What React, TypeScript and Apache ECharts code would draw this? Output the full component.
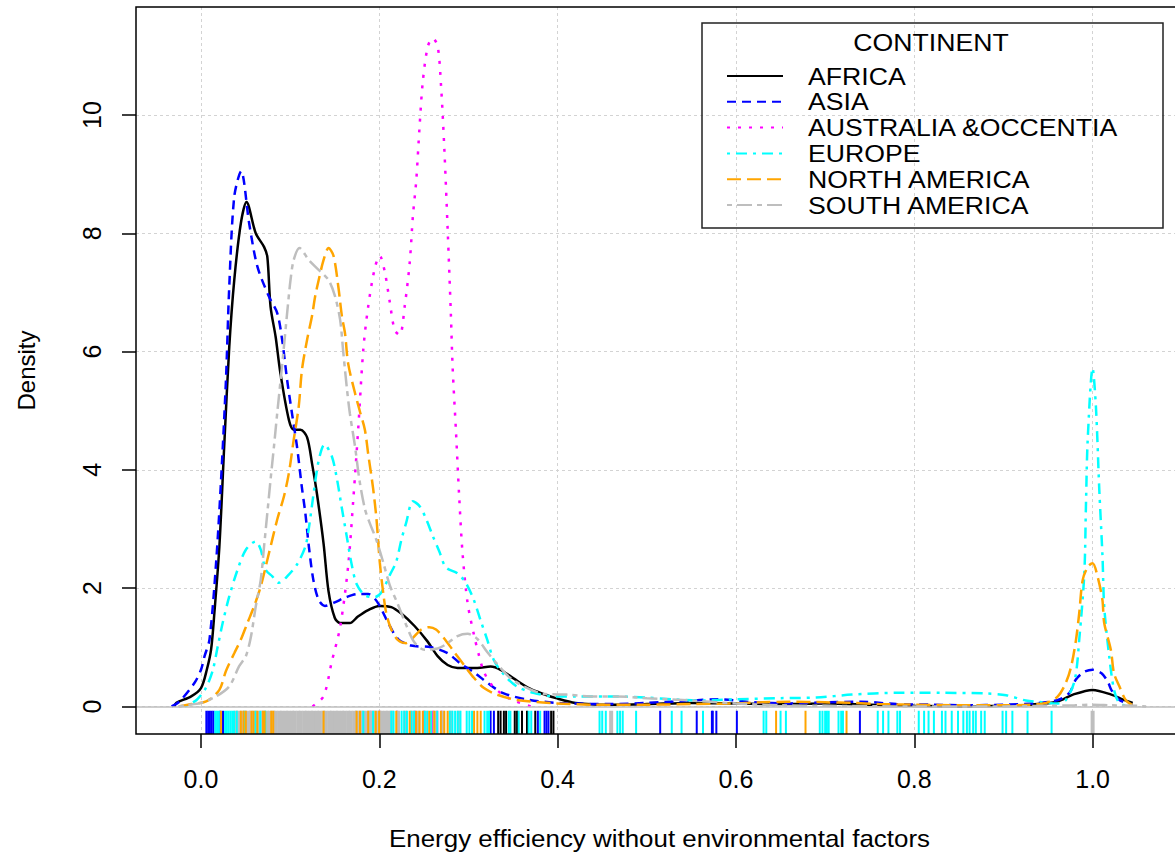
import React, { useEffect, useRef } from "react";
import * as echarts from "echarts";

// ---------- axis ranges and ticks ----------
const X_MIN = -0.0729;
const X_MAX = 1.0924;
const Y_MIN = -0.466;
const Y_MAX = 11.826;
const X_TICKS = [0, 0.2, 0.4, 0.6, 0.8, 1.0];
const Y_TICKS = [0, 2, 4, 6, 8, 10];
const RUG_TOP = -0.073;

const X_TITLE = "Energy efficiency without environmental factors";
const Y_TITLE = "Density";
const LEGEND_TITLE = "CONTINENT";
const CONTINENTS = ["AFRICA", "ASIA", "AUSTRALIA &OCCENTIA", "EUROPE", "NORTH AMERICA", "SOUTH AMERICA"];

// ---------- density curves [x, density] ----------
const AFRICA = [
  [-0.03, 0.0], [-0.0276, 0.06], [-0.011, 0.17], [0.0, 0.31], [0.0065, 0.62], [0.0113, 0.96], [0.015, 1.58],
  [0.0206, 2.7], [0.026, 4.39], [0.0317, 6.08], [0.0373, 7.21], [0.0447, 8.17], [0.051, 8.53], [0.0614, 8.0],
  [0.0707, 7.77], [0.0744, 7.6], [0.078, 6.76], [0.0837, 6.25], [0.089, 5.64], [0.0985, 4.85], [0.104, 4.68],
  [0.1115, 4.68], [0.119, 4.55], [0.1245, 4.11], [0.13, 3.6], [0.1375, 2.75], [0.143, 1.95], [0.15, 1.5],
  [0.156, 1.41], [0.167, 1.41], [0.176, 1.52], [0.1875, 1.63], [0.2, 1.7], [0.2135, 1.68], [0.2246, 1.57],
  [0.2395, 1.36], [0.254, 1.1], [0.2654, 0.85], [0.2766, 0.7], [0.2877, 0.65], [0.31, 0.65], [0.3248, 0.675],
  [0.336, 0.62], [0.351, 0.47], [0.369, 0.3], [0.384, 0.21], [0.398, 0.14], [0.42, 0.06], [0.458, 0.03],
  [0.5, 0.04], [0.55, 0.06], [0.6, 0.05], [0.65, 0.04], [0.7, 0.05], [0.75, 0.03], [0.8, 0.01], [0.85, 0.0],
  [0.9, 0.01], [0.93, 0.03], [0.96, 0.08], [0.978, 0.2], [1.0, 0.28], [1.021, 0.2], [1.035, 0.11], [1.045, 0.06],
];
const ASIA = [
  [-0.033, 0.0], [-0.024, 0.085], [-0.0072, 0.4], [0.0, 0.62], [0.004, 0.85], [0.0095, 1.13], [0.0169, 2.42],
  [0.0225, 3.83], [0.028, 5.52], [0.0317, 7.1], [0.0373, 8.62], [0.045, 9.05], [0.054, 8.17], [0.0632, 7.44],
  [0.0762, 6.93], [0.0855, 6.65], [0.091, 6.2], [0.0966, 5.52], [0.102, 4.96], [0.1077, 4.39], [0.113, 3.72],
  [0.117, 3.27], [0.121, 2.7], [0.126, 2.14], [0.132, 1.8], [0.139, 1.7], [0.15, 1.76], [0.1616, 1.84],
  [0.176, 1.9], [0.1875, 1.9], [0.198, 1.76], [0.2097, 1.42], [0.221, 1.14], [0.2357, 1.03], [0.258, 1.0],
  [0.2766, 0.9], [0.2914, 0.72], [0.306, 0.58], [0.3211, 0.4], [0.3396, 0.22], [0.369, 0.11], [0.403, 0.057],
  [0.458, 0.04], [0.5, 0.06], [0.55, 0.1], [0.58, 0.12], [0.62, 0.07], [0.66, 0.05], [0.7, 0.07], [0.74, 0.08],
  [0.78, 0.04], [0.82, 0.03], [0.86, 0.02], [0.9, 0.03], [0.934, 0.05], [0.961, 0.11], [0.974, 0.23],
  [0.981, 0.45], [0.99, 0.58], [1.0, 0.62], [1.01, 0.56], [1.017, 0.42], [1.021, 0.28], [1.03, 0.11], [1.045, 0.02],
];
const AUSTRALIA = [
  [0.125, 0.0], [0.1374, 0.17], [0.1467, 0.76], [0.156, 1.34], [0.165, 2.37], [0.171, 3.54], [0.1764, 4.71],
  [0.182, 6.03], [0.1875, 6.76], [0.195, 7.42], [0.2005, 7.62], [0.2061, 7.35], [0.2117, 6.84], [0.2173, 6.36],
  [0.223, 6.28], [0.2284, 6.76], [0.234, 7.49], [0.2377, 8.3], [0.2414, 8.89], [0.245, 9.77], [0.2488, 10.57],
  [0.2544, 11.16], [0.26, 11.3], [0.2655, 11.16], [0.2692, 10.5], [0.273, 9.4], [0.2766, 8.08], [0.2803, 6.61],
  [0.2822, 5.74], [0.286, 4.64], [0.2896, 3.54], [0.2933, 2.6], [0.299, 1.75], [0.3063, 1.2], [0.312, 0.85],
  [0.3174, 0.58], [0.3267, 0.35], [0.3415, 0.17], [0.354, 0.08], [0.37, 0.0],
];
const EUROPE = [
  [-0.018, 0.0], [-0.005, 0.11], [0.005, 0.3], [0.013, 0.6], [0.0187, 1.01], [0.0243, 1.41], [0.0317, 1.86],
  [0.041, 2.31], [0.0503, 2.65], [0.0614, 2.79], [0.067, 2.65], [0.0726, 2.31], [0.08, 2.2], [0.0874, 2.09],
  [0.0985, 2.23], [0.1077, 2.4], [0.117, 2.7], [0.1208, 3.0], [0.1263, 3.6], [0.1319, 4.15], [0.1385, 4.43],
  [0.1467, 4.23], [0.1523, 3.86], [0.158, 3.35], [0.1634, 2.88], [0.169, 2.4], [0.1745, 2.07], [0.1838, 1.88],
  [0.195, 1.85], [0.2024, 1.93], [0.2117, 2.22], [0.219, 2.45], [0.2246, 2.81], [0.23, 3.1], [0.2377, 3.47],
  [0.245, 3.39], [0.2525, 3.17], [0.26, 2.88], [0.2673, 2.62], [0.2747, 2.35], [0.2877, 2.25], [0.297, 2.09],
  [0.306, 1.8], [0.3137, 1.45], [0.321, 1.13], [0.3285, 0.78], [0.3396, 0.54], [0.354, 0.34], [0.3727, 0.23],
  [0.398, 0.17], [0.42, 0.17], [0.4536, 0.17], [0.5, 0.15], [0.53, 0.12], [0.56, 0.1], [0.6, 0.12], [0.65, 0.14],
  [0.69, 0.15], [0.73, 0.2], [0.78, 0.23], [0.83, 0.23], [0.88, 0.22], [0.903, 0.19], [0.925, 0.1], [0.943, 0.07],
  [0.96, 0.05], [0.97, 0.11], [0.98, 0.45], [0.985, 1.13], [0.9907, 2.25], [0.9925, 3.38], [0.9945, 4.51],
  [1.0, 5.72], [1.0037, 5.07], [1.0075, 3.66], [1.0111, 2.53], [1.013, 1.69], [1.0186, 0.85], [1.024, 0.28],
  [1.03, 0.06], [1.04, 0.0],
];
const NORTH_AMERICA = [
  [-0.025, 0.0], [-0.0147, 0.03], [0.0058, 0.085], [0.0206, 0.28], [0.028, 0.6], [0.0373, 0.9], [0.0447, 1.13],
  [0.052, 1.41], [0.0595, 1.69], [0.067, 2.03], [0.0762, 2.59], [0.0855, 3.16], [0.093, 3.55], [0.0985, 3.94],
  [0.104, 4.51], [0.1096, 5.07], [0.1133, 5.7], [0.119, 6.2], [0.1245, 6.6], [0.128, 6.93], [0.132, 7.21],
  [0.1375, 7.55], [0.143, 7.75], [0.1486, 7.62], [0.154, 7.1], [0.158, 6.6], [0.1616, 6.3], [0.165, 5.8],
  [0.1727, 5.3], [0.178, 5.0], [0.1838, 4.68], [0.1875, 4.27], [0.193, 3.69], [0.1968, 3.17], [0.2005, 2.44],
  [0.2043, 1.93], [0.208, 1.56], [0.2135, 1.3], [0.221, 1.12], [0.23, 1.07], [0.2377, 1.16], [0.247, 1.3],
  [0.256, 1.34], [0.2636, 1.3], [0.2728, 1.15], [0.284, 0.92], [0.295, 0.7], [0.3063, 0.48], [0.3174, 0.31],
  [0.332, 0.2], [0.354, 0.11], [0.392, 0.057], [0.44, 0.03], [0.5, 0.03], [0.55, 0.04], [0.6, 0.05], [0.63, 0.07],
  [0.66, 0.08], [0.7, 0.07], [0.73, 0.06], [0.76, 0.04], [0.8, 0.03], [0.85, 0.02], [0.9, 0.02], [0.93, 0.03],
  [0.948, 0.06], [0.961, 0.17], [0.97, 0.4], [0.976, 0.68], [0.9814, 1.13], [0.985, 1.58], [0.9889, 2.14],
  [0.995, 2.37], [1.0, 2.42], [1.0055, 2.2], [1.011, 1.8], [1.013, 1.41], [1.0204, 0.96], [1.024, 0.56],
  [1.03, 0.34], [1.037, 0.11], [1.045, 0.02],
];
const SOUTH_AMERICA = [
  [-0.025, 0.0], [-0.017, 0.02], [0.0, 0.06], [0.0169, 0.17], [0.0317, 0.34], [0.0428, 0.68], [0.0503, 0.85],
  [0.056, 1.18], [0.0614, 1.69], [0.067, 2.14], [0.0707, 2.7], [0.0744, 3.27], [0.078, 3.83], [0.0818, 4.39],
  [0.0855, 4.96], [0.0893, 5.52], [0.093, 6.08], [0.0966, 6.65], [0.1004, 7.21], [0.104, 7.55], [0.1105, 7.75],
  [0.1208, 7.55], [0.132, 7.38], [0.143, 7.21], [0.15, 6.95], [0.156, 6.54], [0.1597, 5.97], [0.1634, 5.41],
  [0.167, 4.95], [0.1727, 4.4], [0.178, 3.8], [0.184, 3.33], [0.1893, 3.1], [0.1968, 2.81], [0.2043, 2.44],
  [0.2117, 2.05], [0.221, 1.72], [0.23, 1.38], [0.2395, 1.08], [0.2506, 0.96], [0.2654, 0.98], [0.2747, 1.05],
  [0.2877, 1.19], [0.299, 1.23], [0.31, 1.14], [0.321, 0.92], [0.332, 0.72], [0.347, 0.48], [0.366, 0.31],
  [0.386, 0.21], [0.41, 0.2], [0.436, 0.17], [0.4655, 0.17], [0.5, 0.14], [0.55, 0.1], [0.6, 0.05], [0.65, 0.02],
  [0.7, 0.01], [0.8, 0.0], [0.9, 0.0], [0.95, 0.01], [0.98, 0.02], [1.0, 0.03], [1.02, 0.02], [1.05, 0.01], [1.06, 0.0],
];

// ---------- rug (observations) ----------
const RUG_AFRICA = [0.3333, 0.336, 0.3397, 0.3422, 0.3519, 0.3545, 0.36, 0.3656, 0.3749, 0.3927, 0.3953];
const RUG_ASIA = [0.006, 0.008, 0.01, 0.012, 0.014, 0.0217, 0.0247, 0.3248, 0.3285, 0.3778, 0.3853, 0.3875, 0.3897,
  0.515, 0.556, 0.573, 0.574, 0.578, 0.601, 0.739];
const RUG_AUSTRALIA = [0.19, 0.2, 0.22, 0.24, 0.25, 0.26, 0.265, 0.27];
const RUG_EUROPE = [0.016, 0.018, 0.02, 0.027, 0.029, 0.031, 0.033, 0.035, 0.037, 0.0401, 0.049, 0.061, 0.0665, 0.072,
  0.182, 0.193, 0.2135, 0.216, 0.225, 0.228, 0.231, 0.236, 0.239, 0.251, 0.254, 0.258, 0.265, 0.279, 0.282, 0.285,
  0.288, 0.291, 0.298, 0.301, 0.304, 0.318, 0.321, 0.323, 0.3452, 0.347, 0.3563, 0.3675, 0.3704, 0.3804, 0.447,
  0.45, 0.454, 0.467, 0.47, 0.473, 0.488, 0.528, 0.539, 0.563, 0.631, 0.634, 0.65, 0.656, 0.694, 0.697, 0.7, 0.702,
  0.704, 0.715, 0.718, 0.72, 0.759, 0.765, 0.771, 0.781, 0.784, 0.805, 0.811, 0.816, 0.822, 0.831, 0.835, 0.842,
  0.849, 0.855, 0.859, 0.862, 0.866, 0.869, 0.875, 0.879, 0.899, 0.903, 0.91, 0.927, 0.954];
const RUG_NORTH_AMERICA = [0.0225, 0.0447, 0.0477, 0.0503, 0.0566, 0.0588, 0.0632, 0.0696, 0.0714, 0.0788, 0.081,
  0.1375, 0.1745, 0.1783, 0.1875, 0.196, 0.1998, 0.219, 0.234, 0.2413, 0.245, 0.2487, 0.256, 0.2617, 0.269, 0.2729,
  0.2766, 0.3063, 0.31, 0.3137, 0.645, 0.678, 0.724];
const RUG_SOUTH_AMERICA = [0.039, 0.042, 0.046, 0.049, 0.053, 0.056, 0.06, 0.063, 0.067, 0.07, 0.074, 0.077, 0.081,
  0.084, 0.088, 0.091, 0.095, 0.098, 0.102, 0.105, 0.109, 0.112, 0.116, 0.119, 0.123, 0.126, 0.13, 0.133, 0.137,
  0.14, 0.144, 0.147, 0.151, 0.154, 0.158, 0.161, 0.165, 0.168, 0.172, 0.175, 0.179, 0.182, 0.186, 0.189, 0.193,
  0.196, 0.2, 0.203, 0.207, 0.21, 0.214, 0.221, 0.229, 0.237, 0.244, 0.252, 0.262, 0.271, 0.28, 0.289, 0.46, 1.0];

// ---------- styles ----------
const FONT = "'Liberation Sans', Arial, sans-serif";
const COLORS = ["#000000", "#0000FF", "#FF00FF", "#00FFFF", "#FFA500", "#BEBEBE"];
const DASHES: any[] = ["solid", [9, 6], [3, 8], [3, 6, 11, 6], [14, 6], [5, 5, 15, 5]];
const TEXT_STRETCH = 1.11;
const TITLE_STRETCH = 1.08;

const CURVES = [AFRICA, ASIA, AUSTRALIA, EUROPE, NORTH_AMERICA, SOUTH_AMERICA];
// rug drawing order: hidden ones first, dense grey underneath the rest
const RUGS: { xs: number[]; color: string; width: number }[] = [
  { xs: RUG_AUSTRALIA, color: COLORS[2], width: 2 },
  { xs: RUG_SOUTH_AMERICA, color: COLORS[5], width: 4 },
  { xs: RUG_AFRICA, color: COLORS[0], width: 2 },
  { xs: RUG_ASIA, color: COLORS[1], width: 2 },
  { xs: RUG_EUROPE, color: COLORS[3], width: 2 },
  { xs: RUG_NORTH_AMERICA, color: COLORS[4], width: 2 },
];

export default function App() {
  const ref = useRef<HTMLDivElement>(null);

  useEffect(() => {
    if (!ref.current) return;
    const chart = echarts.init(ref.current, null, { renderer: "svg" });

    const curveSeries = CURVES.map((data, i) => ({
      type: "line",
      name: CONTINENTS[i],
      data,
      showSymbol: false,
      smooth: 0.3,
      silent: true,
      z: 3,
      lineStyle: { color: COLORS[i], width: 2.5, type: DASHES[i] },
      ...(i === 0
        ? {
            markLine: {
              silent: true,
              symbol: "none",
              label: { show: false },
              lineStyle: { color: "#BEBEBE", width: 1.5, type: "solid" },
              data: [{ yAxis: 0 }],
            },
          }
        : {}),
    }));

    const rugSeries = RUGS.map((r) => ({
      type: "custom",
      silent: true,
      z: 2,
      data: r.xs.map((v) => [v, RUG_TOP]),
      encode: { x: 0, y: 1 },
      renderItem: (_p: any, api: any) => {
        const a = api.coord([api.value(0), api.value(1)]);
        const b = api.coord([api.value(0), Y_MIN]);
        return {
          type: "line",
          shape: { x1: a[0], y1: a[1], x2: b[0], y2: b[1] },
          style: { stroke: r.color, lineWidth: r.width },
        };
      },
    }));

    const legendRows = CONTINENTS.flatMap((name, i) => {
      const y = 76 + i * 25.8;
      return [
        {
          type: "line",
          shape: { x1: 727, y1: y, x2: 783, y2: y },
          style: { stroke: COLORS[i], lineWidth: 2, lineDash: DASHES[i] === "solid" ? null : DASHES[i] },
          z: 20,
        },
        {
          type: "text",
          x: 808,
          y,
          scaleX: TEXT_STRETCH,
          style: { text: name, fontSize: 24, fontFamily: FONT, fill: "#000", textAlign: "left", textVerticalAlign: "middle" },
          z: 20,
        },
      ];
    });

    chart.setOption({
      animation: false,
      backgroundColor: "#ffffff",
      grid: { left: 136, top: 7, width: 1047, height: 727, show: false },
      xAxis: {
        type: "value",
        min: X_MIN,
        max: X_MAX,
        axisLine: { show: false, onZero: false },
        axisTick: { show: true, length: 14, customValues: X_TICKS, lineStyle: { color: "#000", width: 1.5 } },
        axisLabel: {
          customValues: X_TICKS,
          formatter: (v: number) => v.toFixed(1),
          fontSize: 25,
          fontFamily: FONT,
          color: "#000",
          margin: 32,
        },
        splitLine: { show: true, lineStyle: { color: "#d3d3d3", type: [3, 3], width: 1 } },
      },
      yAxis: {
        type: "value",
        min: Y_MIN,
        max: Y_MAX,
        axisLine: { show: false, onZero: false },
        axisTick: { show: true, length: 14, customValues: Y_TICKS, lineStyle: { color: "#000", width: 1.5 } },
        axisLabel: {
          customValues: Y_TICKS,
          formatter: (v: number) => String(Math.round(v)),
          rotate: 90,
          fontSize: 25,
          fontFamily: FONT,
          color: "#000",
          margin: 32,
        },
        splitLine: { show: true, lineStyle: { color: "#d3d3d3", type: [3, 3], width: 1 } },
      },
      series: [...rugSeries, ...curveSeries],
      graphic: [
        {
          type: "rect",
          shape: { x: 136, y: 7, width: 1047, height: 727 },
          style: { fill: "none", stroke: "#000", lineWidth: 1.5 },
          z: 10,
          silent: true,
        },
        {
          type: "text",
          x: 659.5,
          y: 838,
          scaleX: TITLE_STRETCH,
          style: { text: X_TITLE, fontSize: 24, fontFamily: FONT, fill: "#000", textAlign: "center", textVerticalAlign: "middle" },
        },
        {
          type: "text",
          x: 26,
          y: 370.5,
          rotation: Math.PI / 2,
          style: { text: Y_TITLE, fontSize: 24, fontFamily: FONT, fill: "#000", textAlign: "center", textVerticalAlign: "middle" },
        },
        {
          type: "rect",
          shape: { x: 702, y: 23, width: 461, height: 205 },
          style: { fill: "none", stroke: "#222", lineWidth: 1.5 },
          z: 20,
        },
        {
          type: "text",
          x: 931,
          y: 42,
          scaleX: TEXT_STRETCH,
          style: { text: LEGEND_TITLE, fontSize: 24, fontFamily: FONT, fill: "#000", textAlign: "center", textVerticalAlign: "middle" },
          z: 20,
        },
        ...legendRows,
      ],
    });

    return () => chart.dispose();
  }, []);

  return (
    <div
      ref={ref}
      style={{ position: "fixed", left: 0, top: 0, width: 1175, height: 852, background: "#fff" }}
    />
  );
}
